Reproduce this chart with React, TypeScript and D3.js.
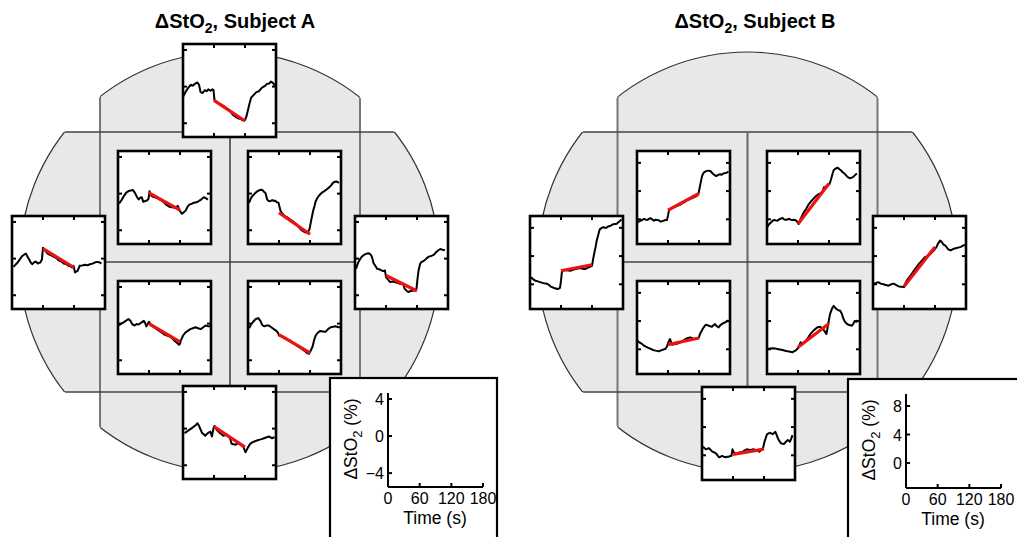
import React from "react";
import * as d3 from "d3";

// ---------------- DATA ----------------
type Pt = [number, number];
const X_DOMAIN: [number, number] = [0, 180];
const X_TICKS = [60, 120];
const X_TICK_LABELS = [0, 60, 120, 180];
const A_Y_DOMAIN: [number, number] = [-5.5, 4.65];
const B_Y_DOMAIN: [number, number] = [-3.5, 9.68];
const A_Y_TICKS = [-4, 0, 4];
const B_Y_TICKS = [0, 4, 8];
const TITLES = ["ΔStO", "ΔStO"];
const SUBJECTS = [", Subject A", ", Subject B"];

// Subject A time series (t in s, ΔStO2 in %)
const A_TOP: Pt[] = [[0,-1.1],[4,-0.7],[8,-0.3],[12,0.0],[15,0.2],[19,0.1],[23,0.3],[28,0.45],[31,0.2],[34,-0.6],[38,-0.7],[42,-0.4],[46,-0.5],[49,-0.3],[53,-0.45],[57,-0.3],[59,-0.35],[61,-1.5],[66,-1.7],[72,-1.9],[78,-2.1],[85,-2.4],[90,-2.6],[97,-3.1],[102,-3.3],[106,-3.45],[112,-3.55],[117,-3.7],[120,-3.65],[123,-3.2],[126,-2.5],[129,-1.8],[132,-1.2],[137,-0.9],[142,-0.6],[147,-0.5],[153,-0.1],[158,0.05],[163,0.3],[167,0.35],[170,0.55],[174,0.4],[178,0.1]];
const A_TOP_FIT = [-1.5, -3.75];
const A_UL: Pt[] = [[2,-1.1],[7,-0.7],[11,-0.3],[16,0.1],[21,0.3],[25,0.35],[29,0.4],[33,0.05],[37,-0.4],[40,-0.65],[43,-0.45],[46,-0.4],[49,-0.9],[53,-0.8],[56,-0.75],[59,-0.6],[61,0.25],[64,-0.2],[68,-0.35],[74,-0.45],[79,-0.6],[84,-0.75],[89,-0.95],[93,-1.2],[97,-1.35],[100,-1.45],[105,-1.5],[109,-1.55],[113,-1.45],[116,-1.35],[118,-1.7],[121,-2.0],[124,-2.2],[128,-2.0],[131,-1.85],[135,-1.4],[138,-1.2],[143,-1.1],[147,-1.0],[152,-0.95],[157,-0.8],[162,-0.6],[166,-0.4],[170,-0.5],[174,-0.65]];
const A_UL_FIT = [0.07, -1.8];
const A_UR: Pt[] = [[2,-1.0],[5,-0.6],[8,-0.3],[13,0.0],[18,0.25],[23,0.4],[27,0.43],[31,0.2],[34,0.05],[37,-0.65],[40,-0.8],[43,-0.83],[47,-0.7],[50,-0.8],[52,-0.76],[56,-0.95],[59,-1.0],[63,-1.9],[67,-2.2],[71,-2.45],[76,-2.6],[81,-2.8],[86,-3.0],[90,-3.17],[95,-3.4],[100,-3.78],[104,-4.0],[108,-4.14],[112,-4.25],[116,-4.2],[119,-3.9],[122,-3.0],[126,-1.9],[129,-1.3],[131,-0.83],[135,-0.4],[138,-0.18],[143,0.1],[147,0.25],[152,0.45],[157,0.68],[161,0.9],[164,1.15],[168,1.3],[172,1.33],[176,1.15]];
const A_UR_FIT = [-2.09, -4.43];
const A_LEFT: Pt[] = [[3,-0.9],[7,-0.65],[11,-0.43],[16,0.0],[20,0.29],[24,0.45],[27,0.54],[30,0.2],[33,-0.07],[36,-0.4],[39,-0.61],[43,-0.4],[46,-0.32],[50,-0.54],[53,-0.45],[55,-0.43],[58,-0.07],[60,1.19],[63,0.95],[65,0.83],[68,0.6],[71,0.47],[76,0.35],[81,0.18],[86,0.05],[90,-0.18],[95,-0.3],[100,-0.54],[105,-0.6],[109,-0.79],[113,-0.85],[116,-0.97],[119,-0.79],[122,-1.51],[125,-1.4],[127,-1.33],[131,-0.79],[136,-0.75],[141,-0.68],[146,-0.72],[151,-0.61],[156,-0.55],[160,-0.43],[165,-0.36],[169,-0.4],[173,-0.54]];
const A_LEFT_FIT = [1.08, -0.97];
const A_RIGHT: Pt[] = [[2,-1.12],[5,-0.6],[8,-0.22],[13,0.2],[18,0.43],[23,0.55],[27,0.58],[31,0.4],[33,0.14],[36,-0.5],[39,-0.76],[43,-1.12],[47,-1.15],[49,-1.23],[52,-1.3],[54,-1.37],[58,-1.3],[60,-2.02],[64,-2.3],[68,-2.56],[73,-2.5],[77,-2.56],[82,-2.65],[87,-2.74],[93,-2.74],[96,-3.28],[100,-3.5],[103,-3.64],[108,-3.53],[112,-3.5],[115,-3.46],[119,-3.28],[121,-2.2],[123,-1.3],[126,-0.6],[128,-0.4],[131,-0.3],[134,-0.22],[139,0.05],[143,0.22],[148,0.3],[153,0.43],[157,0.7],[160,0.86],[165,1.05],[170,0.95],[174,0.94]];
const A_RIGHT_FIT = [-1.84, -3.53];
const A_LL: Pt[] = [[2,-0.2],[6,0.0],[10,0.1],[15,0.3],[20,0.5],[24,0.3],[28,-0.1],[32,-0.2],[36,-0.05],[40,-0.1],[45,0.1],[50,0.3],[53,0.0],[55,-0.3],[58,0.0],[60,0.2],[64,-0.2],[70,-0.4],[75,-0.6],[80,-0.8],[85,-1.0],[90,-1.2],[95,-1.3],[100,-1.4],[105,-1.6],[110,-1.9],[114,-2.1],[118,-2.3],[120,-2.2],[122,-1.8],[126,-1.3],[130,-1.0],[135,-0.8],[140,-0.6],[145,-0.5],[150,-0.4],[155,-0.5],[160,-0.6],[165,-0.4],[170,-0.2],[175,-0.3],[178,-0.3]];
const A_LL_FIT = [0.0, -2.0];
const A_LR: Pt[] = [[2,-0.5],[6,-0.1],[10,0.2],[15,0.5],[20,0.6],[24,0.3],[28,-0.2],[32,-0.3],[36,-0.2],[40,-0.2],[45,-0.4],[50,-0.6],[55,-0.8],[58,-1.0],[60,-1.3],[65,-1.4],[70,-1.5],[75,-1.7],[80,-1.8],[85,-2.0],[90,-2.2],[95,-2.4],[100,-2.6],[105,-2.8],[110,-3.0],[114,-3.2],[118,-3.3],[121,-3.0],[125,-2.5],[128,-1.8],[131,-1.3],[135,-1.0],[140,-0.8],[145,-0.85],[150,-0.9],[155,-0.6],[160,-0.4],[165,-0.35],[170,-0.3],[175,-0.4],[178,-0.4]];
const A_LR_FIT = [-1.2, -3.2];
const A_BOTTOM: Pt[] = [[3,-0.5],[8,-0.3],[12,-0.14],[17,0.05],[21,0.22],[25,0.4],[28,0.58],[31,0.3],[33,0.04],[37,-0.5],[40,-0.6],[43,-0.79],[46,-0.6],[48,-0.5],[53,-0.32],[56,-0.86],[59,0.04],[61,0.29],[65,-0.14],[68,-0.3],[72,-0.5],[78,-0.79],[84,-0.68],[88,-0.9],[91,-1.05],[94,-1.66],[98,-1.7],[101,-1.77],[106,-1.59],[110,-1.7],[113,-1.77],[117,-2.02],[121,-2.59],[125,-2.13],[130,-1.66],[134,-1.5],[138,-1.41],[143,-1.3],[147,-1.23],[152,-1.15],[157,-1.05],[162,-0.95],[166,-0.86],[172,-1.05],[177,-0.94]];
const A_BOTTOM_FIT = [0.22, -2.02];

// Subject B time series
const B_UL: Pt[] = [[1,-0.42],[4,-0.3],[8,-0.19],[11,-0.05],[14,0.05],[17,-0.05],[20,-0.09],[24,0.1],[27,0.14],[30,-0.05],[33,-0.19],[36,-0.05],[40,-0.09],[43,-0.2],[46,-0.33],[49,-0.25],[52,-0.19],[55,-0.1],[58,-0.09],[60,0.52],[62,1.31],[65,1.45],[68,1.6],[73,1.75],[78,1.92],[83,2.05],[87,2.25],[92,2.45],[97,2.72],[102,2.85],[107,3.0],[111,3.15],[116,3.33],[119,3.66],[122,4.74],[126,6.15],[129,6.6],[132,6.76],[137,6.9],[142,6.85],[145,6.6],[148,6.38],[151,6.2],[154,6.15],[157,6.3],[161,6.38],[164,6.3],[167,6.48],[171,6.55],[174,6.62],[177,6.76]];
const B_UL_FIT = [1.31, 3.66];
const B_UR: Pt[] = [[1,-1.03],[4,-0.7],[8,-0.42],[11,-0.2],[14,-0.09],[17,-0.15],[20,-0.19],[25,0.05],[30,0.19],[33,0.0],[36,-0.09],[40,0.0],[43,0.05],[46,-0.05],[49,-0.09],[52,-0.05],[55,-0.09],[58,-0.3],[61,-0.66],[65,0.05],[68,0.5],[71,0.99],[76,1.5],[81,2.16],[86,2.6],[91,3.0],[95,3.3],[100,3.57],[104,3.7],[107,3.8],[110,4.51],[113,4.6],[116,4.74],[119,4.9],[121,4.98],[124,5.68],[127,6.5],[129,6.95],[133,7.2],[137,7.32],[140,7.1],[143,6.95],[146,6.7],[148,6.62],[151,6.4],[154,6.15],[158,5.9],[161,5.82],[164,5.9],[167,6.01],[171,6.3],[174,6.48]];
const B_UR_FIT = [-0.66, 5.07];
const B_LL: Pt[] = [[1,1.22],[4,1.0],[8,0.85],[12,0.6],[17,0.38],[22,0.2],[27,0.05],[31,-0.1],[36,-0.19],[40,-0.25],[43,-0.28],[46,-0.15],[49,-0.09],[52,0.0],[55,0.05],[58,0.4],[60,0.85],[62,1.2],[64,1.46],[66,1.0],[68,0.66],[72,0.7],[75,0.75],[80,0.85],[84,0.99],[89,1.2],[94,1.46],[99,1.6],[103,1.69],[108,1.55],[113,1.46],[116,1.55],[119,1.6],[122,2.16],[125,2.6],[128,3.0],[132,3.4],[135,3.47],[140,3.3],[145,3.19],[148,3.4],[151,3.57],[154,3.3],[158,3.1],[161,3.4],[164,3.57],[167,3.7],[170,3.8],[174,3.95],[177,4.13]];
const B_LL_FIT = [0.66, 1.6];
const B_LR: Pt[] = [[1,0.05],[6,0.1],[11,0.14],[16,0.1],[20,0.05],[25,-0.02],[30,-0.09],[35,-0.2],[40,-0.28],[45,-0.35],[49,-0.42],[52,-0.3],[55,-0.19],[58,0.0],[61,0.28],[65,0.99],[68,0.9],[71,0.85],[75,1.2],[78,1.46],[81,1.8],[84,2.16],[88,2.5],[91,2.72],[94,2.9],[97,3.1],[100,3.15],[103,3.19],[106,3.0],[110,2.72],[113,2.4],[115,2.16],[118,3.33],[120,4.2],[122,4.98],[126,5.8],[129,6.15],[132,5.9],[135,5.68],[139,5.5],[142,5.45],[145,5.0],[147,4.51],[150,4.0],[152,3.8],[155,3.6],[158,3.47],[161,3.4],[164,3.33],[167,3.6],[170,4.04],[173,3.9],[175,4.13]];
const B_LR_FIT = [0.28, 3.66];
const B_LEFT: Pt[] = [[2,0.99],[5,0.8],[8,0.61],[11,0.5],[15,0.42],[18,0.35],[21,0.28],[24,0.2],[27,0.14],[31,0.1],[34,0.05],[37,-0.1],[40,-0.33],[43,-0.4],[46,-0.52],[50,-0.6],[53,-0.66],[56,-0.6],[58,-0.52],[60,0.52],[62,1.92],[66,2.0],[69,2.02],[74,1.95],[78,1.92],[83,2.05],[88,2.16],[93,2.25],[97,2.3],[102,2.2],[107,2.16],[110,2.3],[113,2.39],[117,2.5],[120,2.63],[122,3.5],[124,4.27],[127,5.3],[129,6.15],[132,7.0],[135,7.79],[139,8.0],[142,8.12],[145,8.0],[148,8.03],[151,8.2],[155,8.26],[158,8.4],[161,8.5],[165,8.55],[168,8.59],[171,8.8],[174,8.97],[177,9.2]];
const B_LEFT_FIT = [1.92, 2.77];
const B_RIGHT: Pt[] = [[2,0.1],[6,0.2],[10,0.3],[15,0.1],[20,0.0],[25,-0.1],[30,-0.2],[35,0.0],[40,0.1],[45,-0.1],[50,-0.3],[55,-0.35],[60,-0.4],[63,0.2],[67,0.7],[70,1.0],[75,1.5],[80,2.0],[85,2.5],[90,3.0],[95,3.4],[100,3.8],[105,4.0],[110,4.2],[115,4.6],[120,5.0],[123,5.3],[126,5.8],[130,6.2],[133,6.0],[137,5.6],[140,5.5],[145,5.0],[150,4.8],[155,5.0],[160,5.1],[165,5.2],[170,5.3],[175,5.5],[178,5.6]];
const B_RIGHT_FIT = [-0.3, 5.3];
const B_BOTTOM: Pt[] = [[2,1.22],[5,1.0],[8,0.85],[11,0.95],[14,0.99],[17,0.75],[20,0.52],[24,0.4],[27,0.28],[30,0.0],[33,-0.28],[36,-0.2],[39,-0.09],[42,-0.2],[46,-0.28],[49,-0.2],[52,-0.19],[55,-0.1],[57,-0.09],[59,0.85],[61,0.5],[63,0.28],[67,0.3],[71,0.38],[75,0.45],[79,0.52],[83,0.7],[87,0.85],[90,0.8],[93,0.75],[96,0.8],[99,0.85],[103,0.75],[106,0.66],[109,0.6],[111,0.52],[113,0.65],[115,0.75],[118,0.99],[121,1.92],[124,2.6],[126,3.0],[129,3.1],[131,3.19],[134,3.1],[137,3.0],[140,3.2],[142,3.33],[145,2.8],[147,2.39],[150,2.0],[153,1.69],[156,1.65],[159,1.6],[162,1.9],[166,2.16],[169,2.0],[170,1.92],[173,2.4],[175,2.86]];
const B_BOTTOM_FIT = [0.14, 0.89];

// ---------------- LAYOUT ----------------
const W = 1017, H = 537;
const PANEL = 95;
const FONT = "'Liberation Sans', Arial, sans-serif";

interface PanelSpec { x: number; y: number; data: Pt[]; fit: number[] }

const A_PANELS: PanelSpec[] = [
  { x: 182, y: 43, data: A_TOP, fit: A_TOP_FIT },
  { x: 117, y: 150, data: A_UL, fit: A_UL_FIT },
  { x: 247, y: 150, data: A_UR, fit: A_UR_FIT },
  { x: 11, y: 215, data: A_LEFT, fit: A_LEFT_FIT },
  { x: 354, y: 215, data: A_RIGHT, fit: A_RIGHT_FIT },
  { x: 117, y: 280, data: A_LL, fit: A_LL_FIT },
  { x: 247, y: 280, data: A_LR, fit: A_LR_FIT },
  { x: 182, y: 385, data: A_BOTTOM, fit: A_BOTTOM_FIT },
];
const B_PANELS: PanelSpec[] = [
  { x: 636, y: 150, data: B_UL, fit: B_UL_FIT },
  { x: 766, y: 150, data: B_UR, fit: B_UR_FIT },
  { x: 529, y: 215, data: B_LEFT, fit: B_LEFT_FIT },
  { x: 872, y: 215, data: B_RIGHT, fit: B_RIGHT_FIT },
  { x: 636, y: 280, data: B_LL, fit: B_LL_FIT },
  { x: 766, y: 280, data: B_LR, fit: B_LR_FIT },
  { x: 701, y: 386, data: B_BOTTOM, fit: B_BOTTOM_FIT },
];

function Head({ id, cx, cy, r, vx0, vx1, hy0, hy1 }: any) {
  return (
    <g>
      <defs>
        <clipPath id={`cross-${id}`}>
          <rect x={vx0} y={0} width={vx1 - vx0} height={H} />
          <rect x={0} y={hy0} width={W} height={hy1 - hy0} />
        </clipPath>
        <clipPath id={`circ-${id}`}>
          <circle cx={cx} cy={cy} r={r} />
        </clipPath>
      </defs>
      <circle cx={cx} cy={cy} r={r} fill="#e8e8e8" stroke="#333" strokeWidth={1.2} clipPath={`url(#cross-${id})`} />
      <g clipPath={`url(#circ-${id})`}>
        <line x1={vx0} x2={vx0} y1={0} y2={H} stroke="#777" strokeWidth={2} />
        <line x1={vx1} x2={vx1} y1={0} y2={H} stroke="#777" strokeWidth={2} />
        <line x1={0} x2={W} y1={hy0} y2={hy0} stroke="#444" strokeWidth={1.3} />
        <line x1={0} x2={W} y1={hy1} y2={hy1} stroke="#444" strokeWidth={1.3} />
      </g>
      <line x1={(vx0 + vx1) / 2} x2={(vx0 + vx1) / 2} y1={hy0} y2={hy1} stroke="#666" strokeWidth={2} />
      <line x1={vx0} x2={vx1} y1={cy} y2={cy} stroke="#444" strokeWidth={1.3} />
    </g>
  );
}

function Panel({ spec, yDomain, yTicks }: { spec: PanelSpec; yDomain: [number, number]; yTicks: number[] }) {
  const x0 = spec.x, y0 = spec.y;
  const xs = d3.scaleLinear().domain(X_DOMAIN).range([x0 + 1, x0 + PANEL - 1]);
  const ys = d3.scaleLinear().domain(yDomain).range([y0 + PANEL - 1, y0 + 1]);
  const line = d3.line<Pt>().x((d) => xs(d[0])).y((d) => ys(d[1])).curve(d3.curveLinear);
  const tl = 4;
  return (
    <g>
      <rect x={x0 + 1} y={y0 + 1} width={PANEL - 2} height={PANEL - 2} fill="#fff" />
      <path d={line(spec.data) || ""} fill="none" stroke="#000" strokeWidth={2} strokeLinejoin="round" />
      <line x1={xs(60)} x2={xs(120)} y1={ys(spec.fit[0])} y2={ys(spec.fit[1])} stroke="#ee1111" strokeWidth={3.2} />
      {X_TICKS.map((t) => (
        <g key={`x${t}`}>
          <line x1={xs(t)} x2={xs(t)} y1={y0 + 1} y2={y0 + 1 + tl} stroke="#000" strokeWidth={2} />
          <line x1={xs(t)} x2={xs(t)} y1={y0 + PANEL - 1} y2={y0 + PANEL - 1 - tl} stroke="#000" strokeWidth={2} />
        </g>
      ))}
      {yTicks.map((t) => (
        <g key={`y${t}`}>
          <line x1={x0 + 1} x2={x0 + 1 + tl} y1={ys(t)} y2={ys(t)} stroke="#000" strokeWidth={2} />
          <line x1={x0 + PANEL - 1} x2={x0 + PANEL - 1 - tl} y1={ys(t)} y2={ys(t)} stroke="#000" strokeWidth={2} />
        </g>
      ))}
      <rect x={x0 + 1} y={y0 + 1} width={PANEL - 2} height={PANEL - 2} fill="none" stroke="#000" strokeWidth={2.6} />
    </g>
  );
}

function LegendAxes({ bx, by, bw, yDomain, yTicks }: { bx: number; by: number; bw: number; yDomain: [number, number]; yTicks: number[] }) {
  const ax = bx + 58, ay = by + 109;
  const xs = d3.scaleLinear().domain(X_DOMAIN).range([ax, ax + PANEL]);
  const ys = d3.scaleLinear().domain(yDomain).range([ay, ay - 94]);
  const tl = 4;
  return (
    <g fontFamily={FONT}>
      <rect x={bx} y={by} width={bw} height={H - by + 10} fill="#fff" stroke="#000" strokeWidth={2.2} />
      <line x1={ax} x2={ax} y1={ay - 94} y2={ay} stroke="#000" strokeWidth={2} />
      <line x1={ax} x2={ax + PANEL} y1={ay} y2={ay} stroke="#000" strokeWidth={2} />
      {X_TICK_LABELS.map((t) => (
        <g key={`xt${t}`}>
          {t > 0 && <line x1={xs(t)} x2={xs(t)} y1={ay} y2={ay - tl} stroke="#000" strokeWidth={2} />}
          <text x={xs(t)} y={ay + 17} fontSize={16} textAnchor="middle" fill="#000">{t}</text>
        </g>
      ))}
      {yTicks.map((t) => (
        <g key={`yt${t}`}>
          <line x1={ax} x2={ax + tl} y1={ys(t)} y2={ys(t)} stroke="#000" strokeWidth={2} />
          <text x={ax - 4} y={ys(t) + 6} fontSize={16} textAnchor="end" fill="#000">{t < 0 ? `\u2212${Math.abs(t)}` : t}</text>
        </g>
      ))}
      <text x={ax + 47} y={ay + 37} fontSize={17.5} textAnchor="middle" fill="#000">Time (s)</text>
      <text transform={`translate(${ax - 31},${ay - 48}) rotate(-90)`} fontSize={17.5} textAnchor="middle" fill="#000">
        ΔStO<tspan dy={5} fontSize={13}>2</tspan><tspan dy={-5}> (%)</tspan>
      </text>
    </g>
  );
}

export default function App() {
  return (
    <div style={{ position: "absolute", left: 0, top: 0, width: W, height: H, background: "#fff" }}>
      <svg width={W} height={H} style={{ display: "block" }}>
        <rect x={0} y={0} width={W} height={H} fill="#fff" />
        <Head id="A" cx={229.5} cy={262} r={210} vx0={100} vx1={360} hy0={132} hy1={392} />
        <Head id="B" cx={747.5} cy={262} r={210} vx0={617.5} vx1={877.5} hy0={132} hy1={392} />
        {[235, 755].map((cx, i) => (
          <text key={i} x={cx} y={28} fontFamily={FONT} fontWeight="bold" fontSize={20} textAnchor="middle" fill="#000">
            {TITLES[i]}<tspan dy={5} fontSize={14}>2</tspan><tspan dy={-5}>{SUBJECTS[i]}</tspan>
          </text>
        ))}
        {A_PANELS.map((p, i) => <Panel key={`a${i}`} spec={p} yDomain={A_Y_DOMAIN} yTicks={A_Y_TICKS} />)}
        {B_PANELS.map((p, i) => <Panel key={`b${i}`} spec={p} yDomain={B_Y_DOMAIN} yTicks={B_Y_TICKS} />)}
        <LegendAxes bx={330} by={378} bw={167} yDomain={A_Y_DOMAIN} yTicks={A_Y_TICKS} />
        <LegendAxes bx={848} by={379} bw={200} yDomain={B_Y_DOMAIN} yTicks={B_Y_TICKS} />
      </svg>
    </div>
  );
}
